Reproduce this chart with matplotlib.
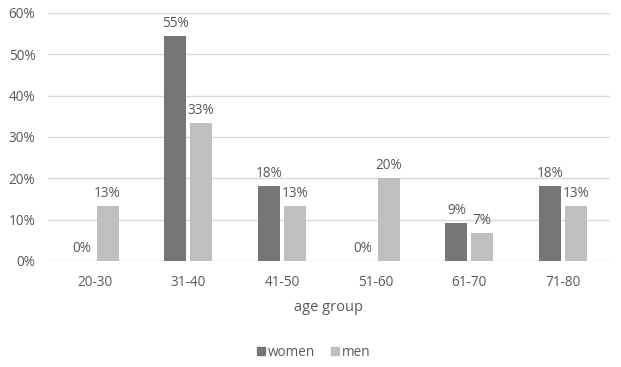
import matplotlib
matplotlib.use("Agg")
import matplotlib.pyplot as plt
from matplotlib.patches import Patch
import numpy as np

categories = ["20-30", "31-40", "41-50", "51-60", "61-70", "71-80"]
women = [0.0, 54.5, 18.2, 0.0, 9.1, 18.2]
men = [13.3, 33.3, 13.3, 20.0, 6.7, 13.3]
women_labels = ["0%", "55%", "18%", "0%", "9%", "18%"]
men_labels = ["13%", "33%", "13%", "20%", "7%", "13%"]

plt.rcParams['font.family'] = ['Open Sans', 'DejaVu Sans']
txt = "#595959"
c_w = "#767676"
c_m = "#bfbfbf"

fig = plt.figure(figsize=(6.21, 3.67), dpi=100)
ax = fig.add_axes([0.077, 0.289, 0.905, 0.676])
x = np.arange(len(categories))
bw = 0.235
gap = 0.04
off = (bw + gap) / 2
ax.bar(x - off, women, bw, color=c_w, zorder=3)
ax.bar(x + off, men, bw, color=c_m, zorder=3)
for xi, v, l in zip(x - off, women, women_labels):
    ax.text(xi, v + 1.2, l, ha="center", va="bottom", fontsize=9.8, color=txt)
for xi, v, l in zip(x + off, men, men_labels):
    ax.text(xi, v + 1.2, l, ha="center", va="bottom", fontsize=9.8, color=txt)

ax.set_xlim(-0.5, len(categories) - 0.5)
ax.set_ylim(0, 60)
ax.set_yticks(range(0, 61, 10))
ax.set_yticklabels([f"{t}%" for t in range(0, 61, 10)])
ax.set_xticks(x)
ax.set_xticklabels(categories)
ax.tick_params(axis="both", length=0, labelsize=9.8, colors=txt)
ax.tick_params(axis="y", pad=9)
ax.tick_params(axis="x", pad=10)
ax.yaxis.grid(True, color="#d9d9d9", linewidth=1, zorder=0)
for s in ax.spines.values():
    s.set_visible(False)
ax.set_xlabel("age group", fontsize=10.5, color=txt, labelpad=7)

handles = [Patch(color=c_w), Patch(color=c_m)]
fig.legend(handles, ["women", "men"], loc="center", bbox_to_anchor=(0.505, 0.04),
           ncol=2, frameon=False, fontsize=9.8, labelcolor=txt,
           handlelength=0.6, handleheight=0.6, handletextpad=0.2, columnspacing=1.2)

fig.savefig("out.png", dpi=100)
